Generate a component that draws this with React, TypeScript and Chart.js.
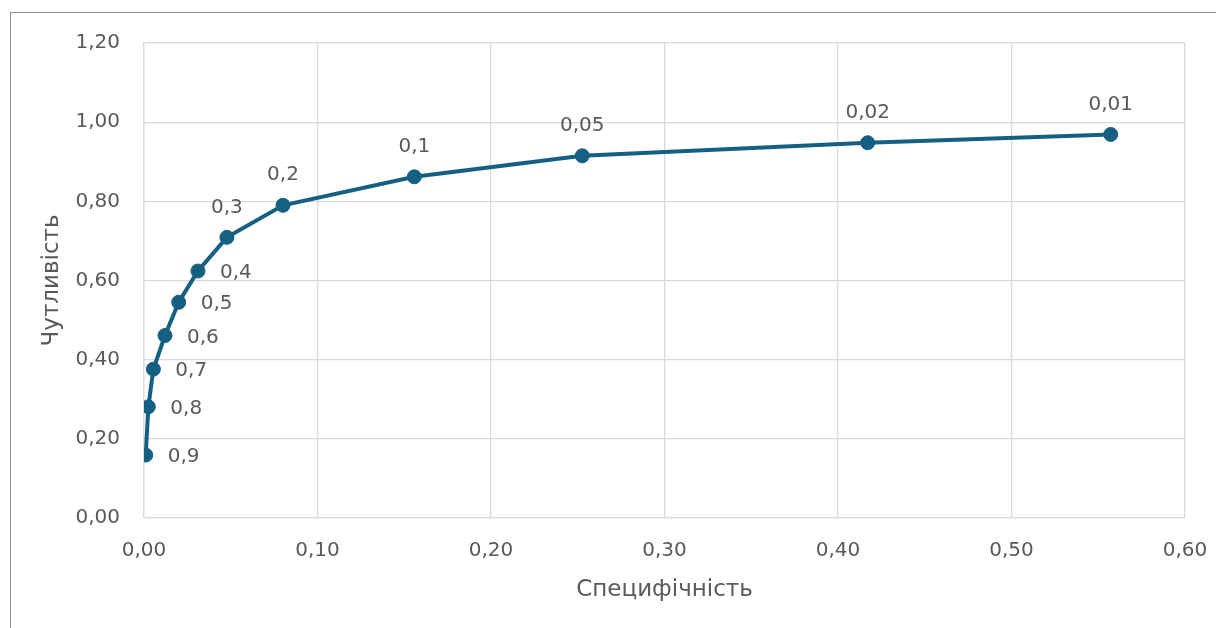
import React, { useEffect, useRef } from "react";
import { Chart, registerables } from "chart.js";

Chart.register(...registerables);

const thresholdLabels = ["0,9", "0,8", "0,7", "0,6", "0,5", "0,4", "0,3", "0,2", "0,1", "0,05", "0,02", "0,01"];
const specificity = [0.001, 0.0025, 0.0054, 0.0121, 0.02, 0.0311, 0.0478, 0.0801, 0.1558, 0.2526, 0.4171, 0.5572];
const sensitivity = [0.159, 0.281, 0.376, 0.461, 0.545, 0.624, 0.709, 0.79, 0.862, 0.915, 0.948, 0.969];
const xTickLabels = ["0,00", "0,10", "0,20", "0,30", "0,40", "0,50", "0,60"];
const yTickLabels = ["0,00", "0,20", "0,40", "0,60", "0,80", "1,00", "1,20"];
const xTitle = "Специфічність";
const yTitle = "Чутливість";

const LINE_COLOR = "#156082";
const TEXT_COLOR = "#595959";
const GRID_COLOR = "#d9d9d9";
const FONT = "'DejaVu Sans', 'Liberation Sans', sans-serif";
const RIGHT_LABEL_COUNT = 6;

const dataLabelPlugin = {
  id: "rocLabels",
  afterDatasetsDraw(chart: any) {
    const ctx = chart.ctx;
    const meta = chart.getDatasetMeta(0);
    ctx.save();
    ctx.fillStyle = TEXT_COLOR;
    ctx.font = `20px ${FONT}`;
    ctx.textBaseline = "middle";
    meta.data.forEach((pt: any, i: number) => {
      const text = thresholdLabels[i];
      if (i < RIGHT_LABEL_COUNT) {
        ctx.textAlign = "left";
        ctx.fillText(text, pt.x + 22, pt.y + 2);
      } else {
        ctx.textAlign = "center";
        ctx.fillText(text, pt.x, pt.y - 30);
      }
    });
    ctx.restore();
  },
};

export default function App() {
  const canvasRef = useRef<HTMLCanvasElement | null>(null);

  useEffect(() => {
    if (!canvasRef.current) return;
    const points = specificity.map((x, i) => ({ x, y: sensitivity[i] }));
    const chart = new Chart(canvasRef.current, {
      type: "line",
      data: {
        datasets: [
          {
            data: points,
            borderColor: LINE_COLOR,
            backgroundColor: LINE_COLOR,
            borderWidth: 4,
            pointRadius: 7,
            pointBorderWidth: 1,
            pointBackgroundColor: LINE_COLOR,
            pointBorderColor: LINE_COLOR,
            tension: 0,
          },
        ],
      },
      options: {
        responsive: false,
        animation: false,
        devicePixelRatio: 1,
        layout: { padding: { left: 0, top: 35, right: 23, bottom: 0 } },
        plugins: {
          legend: { display: false },
          tooltip: { enabled: false },
        },
        scales: {
          x: {
            type: "linear",
            min: 0,
            max: 0.6,
            ticks: {
              stepSize: 0.1,
              padding: 21,
              color: TEXT_COLOR,
              font: { family: FONT, size: 20 },
              maxRotation: 0,
              callback: (_v: any, i: number) => xTickLabels[i],
            },
            grid: { color: GRID_COLOR, lineWidth: 1.3, drawTicks: false },
            border: { color: GRID_COLOR, width: 1.3 },
            title: {
              display: true,
              text: xTitle,
              color: TEXT_COLOR,
              font: { family: FONT, size: 23 },
              padding: { top: 0, bottom: 16 },
            },
            afterFit: (s: any) => {
              s.height = 102;
              s.paddingLeft = 0;
              s.paddingRight = 0;
            },
          },
          y: {
            type: "linear",
            min: 0,
            max: 1.2,
            ticks: {
              stepSize: 0.2,
              padding: 24,
              color: TEXT_COLOR,
              font: { family: FONT, size: 20 },
              callback: (_v: any, i: number) => yTickLabels[i],
            },
            grid: { color: GRID_COLOR, lineWidth: 1.3, drawTicks: false },
            border: { color: GRID_COLOR, width: 1.3 },
            title: {
              display: true,
              text: yTitle,
              color: TEXT_COLOR,
              font: { family: FONT, size: 23 },
              padding: { top: 30, bottom: 0 },
            },
            afterFit: (s: any) => {
              s.width = 136;
              s.paddingTop = 0;
              s.paddingBottom = 0;
            },
          },
        },
      },
      plugins: [dataLabelPlugin],
    });
    return () => chart.destroy();
  }, []);

  return (
    <div style={{ position: "relative", width: 1200, height: 612 }}>
      <div
        style={{
          position: "fixed",
          left: 10,
          top: 12,
          right: -20,
          bottom: -20,
          border: "1px solid #8c8c8c",
          pointerEvents: "none",
        }}
      />
      <canvas
        ref={canvasRef}
        width={1200}
        height={612}
        style={{ position: "absolute", left: 0, top: 0, width: 1200, height: 612 }}
      />
    </div>
  );
}
